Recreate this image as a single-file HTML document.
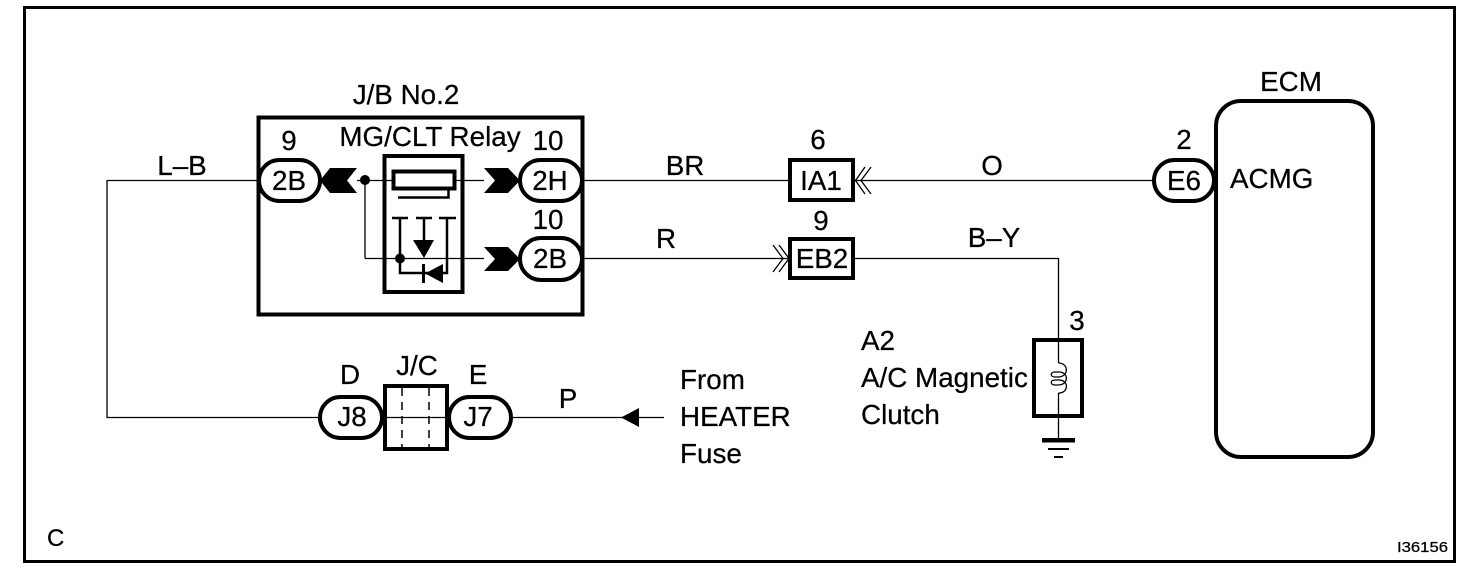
<!DOCTYPE html>
<html><head><meta charset="utf-8"><style>
html,body{margin:0;padding:0;background:#fff;width:1472px;height:576px;overflow:hidden}
svg{display:block}
text{font-family:"Liberation Sans",Arial,sans-serif;font-size:27.8px;fill:#000;stroke:#000;stroke-width:.25}
.m{text-anchor:middle}
.b{fill:#fff;stroke:#000;stroke-width:4}
.t{fill:none;stroke:#000;stroke-width:1.3}
.h{fill:none;stroke:#000;stroke-width:2.5}
</style></head><body>
<svg width="1472" height="576" viewBox="0 0 1472 576" xmlns="http://www.w3.org/2000/svg">
<rect x="0" y="0" width="1472" height="576" fill="#fff"/>
<rect x="24.500" y="7.500" width="1430" height="554" fill="none" stroke="#000" stroke-width="3"/>

<!-- wires -->
<path class="t" d="M107 180.500H258M107 180V417.500H318M357 180.500H484M365 258.500H484M365 180V258.500M583 180.500H788M855 180.500H1153M583 258.500H789M855 258.500H1058.500V338M1058.500 417V438M512 417.500H664M384 417.500H448"/>

<!-- J/B box -->
<rect x="258.500" y="117.500" width="324" height="197" fill="none" stroke="#000" stroke-width="4"/>
<rect x="384.500" y="156" width="78" height="136" fill="none" stroke="#000" stroke-width="4"/>
<rect x="393.500" y="171.500" width="61" height="17" fill="#fff" stroke="#000" stroke-width="4"/>
<path class="h" d="M398 197.500H448.500V190"/>
<path class="h" d="M392 218H408M416 218H432M439 218H456M400 218V273H447V218M424 218V242"/>
<path d="M413 240H434L424 258Z"/>
<path d="M425 273.500L443 264V283Z"/>
<rect x="422" y="264" width="3" height="19"/>
<circle cx="365" cy="180" r="5"/>
<circle cx="400" cy="258.500" r="5"/>

<!-- black connectors -->
<path d="M320 180.500L330 168H357L347 180.500L357 193H330Z"/>
<path d="M484 168H508L520 180.500L508 193H484L495 180.500Z"/>
<path d="M484 247H508L520 259L508 271H484L495 259Z"/>

<!-- pills -->
<rect class="b" x="259" y="160" width="61" height="41" rx="20.500"/>
<rect class="b" x="520" y="160" width="62" height="41" rx="20.500"/>
<rect class="b" x="520" y="238" width="62" height="42" rx="21"/>
<rect class="b" x="320" y="397" width="62" height="41" rx="20.500"/>
<rect class="b" x="449" y="397" width="62" height="41" rx="20.500"/>

<!-- J/C -->
<rect x="385" y="386" width="62" height="63" fill="#fff" stroke="#000" stroke-width="4"/>
<path class="t" d="M384 417.500H448"/>
<path d="M402 388V447M429 388V447" fill="none" stroke="#000" stroke-width="1.500" stroke-dasharray="8 6"/>
<path d="M621 417.500L639 408V427Z"/>

<!-- IA1 / EB2 -->
<rect x="790" y="160" width="63" height="40" fill="#fff" stroke="#000" stroke-width="4"/>
<rect x="790" y="239" width="63" height="39" fill="#fff" stroke="#000" stroke-width="4"/>
<path class="t" d="M865 167L855.500 180.500L865 194M871 167L861 180.500L871 194"/>
<path class="t" d="M773 245L783 258.500L773 272M779 245L789 258.500L779 272"/>

<!-- coil -->
<rect x="1034" y="340" width="48" height="76" fill="none" stroke="#000" stroke-width="4"/>
<path class="t" d="M1058.500 363C1069 363 1069 377 1058 377H1055C1050 377 1050 372 1055 372H1059C1069 372 1069 385 1058 385H1055C1050 385 1050 380 1055 380H1059C1069 380 1069 393 1058.500 393"/>
<path class="t" d="M1058.500 338V363M1058.500 393V417"/>
<rect x="1042" y="438" width="33" height="4.500"/>
<rect x="1048" y="448" width="21" height="2"/>
<rect x="1054" y="456" width="9" height="2"/>

<!-- ECM -->
<rect x="1216" y="101" width="157" height="356" rx="25" fill="none" stroke="#000" stroke-width="4"/>
<rect class="b" x="1154" y="160" width="60" height="41" rx="20.500"/>

<!-- labels -->
<text x="406" y="104" class="m">J/B No.2</text>
<text x="430" y="146" class="m">MG/CLT Relay</text>
<text x="289" y="150" class="m">9</text>
<text x="548" y="150" class="m">10</text>
<text x="548" y="229" class="m">10</text>
<text x="289" y="190" class="m">2B</text>
<text x="550" y="190" class="m">2H</text>
<text x="550" y="268" class="m">2B</text>
<text x="182" y="175" class="m">L–B</text>
<text x="685" y="175" class="m">BR</text>
<text x="666" y="248" class="m">R</text>
<text x="818" y="149" class="m">6</text>
<text x="821" y="230" class="m">9</text>
<text x="821" y="190" class="m">IA1</text>
<text x="822" y="268" class="m">EB2</text>
<text x="992" y="175" class="m">O</text>
<text x="994" y="247" class="m">B–Y</text>
<text x="1184" y="149" class="m">2</text>
<text x="1184" y="190" class="m">E6</text>
<text x="1291" y="91" class="m">ECM</text>
<text x="1230" y="188">ACMG</text>
<text x="1077" y="330" class="m">3</text>
<text x="861" y="350">A2</text>
<text x="861" y="387">A/C Magnetic</text>
<text x="861" y="424">Clutch</text>
<text x="350" y="384" class="m">D</text>
<text x="417" y="375" class="m">J/C</text>
<text x="478" y="384" class="m">E</text>
<text x="352" y="426" class="m">J8</text>
<text x="478" y="426" class="m">J7</text>
<text x="568" y="408" class="m">P</text>
<text x="680" y="389">From</text>
<text x="680" y="426">HEATER</text>
<text x="680" y="463">Fuse</text>
<text x="47" y="546" style="font-size:24px">C</text>
<text x="1397" y="552" style="font-size:15px" textLength="51" lengthAdjust="spacingAndGlyphs">I36156</text>
</svg>
</body></html>
